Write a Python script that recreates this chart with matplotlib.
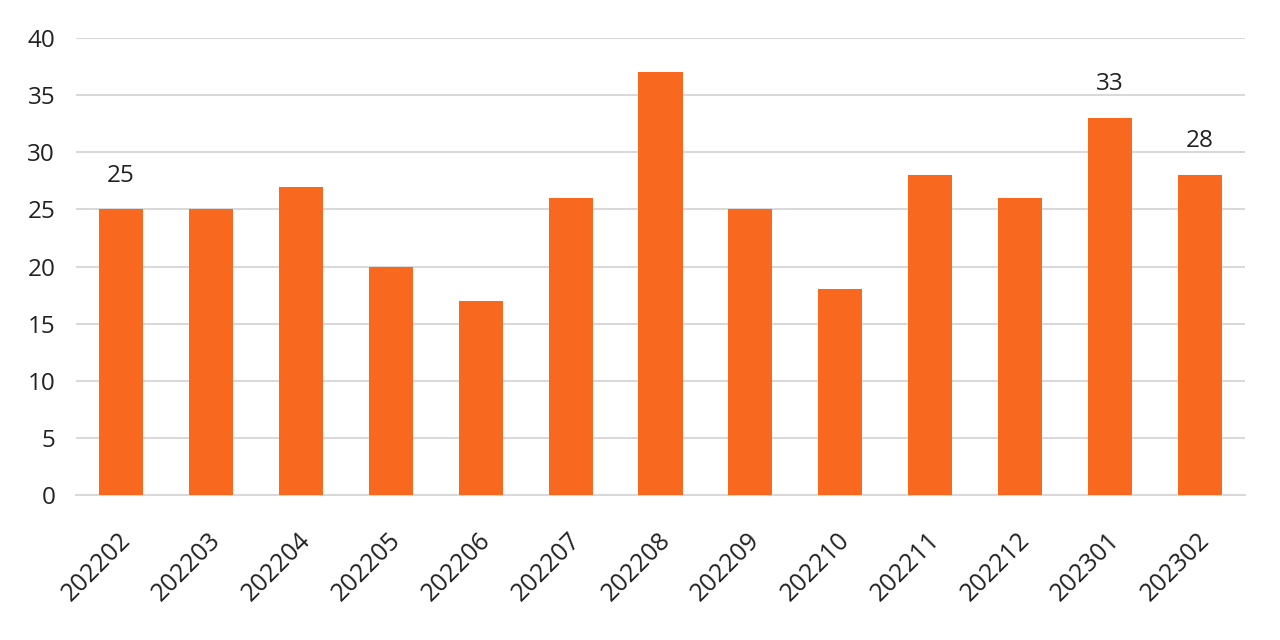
import matplotlib
matplotlib.use("Agg")
import matplotlib.pyplot as plt
import matplotlib.transforms as mtransforms

months = ["202202", "202203", "202204", "202205", "202206", "202207", "202208",
          "202209", "202210", "202211", "202212", "202301", "202302"]
values = [25, 25, 27, 20, 17, 26, 37, 25, 18, 28, 26, 33, 28]
labeled = [0, 11, 12]
yticks = [0, 5, 10, 15, 20, 25, 30, 35, 40]

plt.rcParams['font.family'] = ['Open Sans', 'DejaVu Sans']

fig = plt.figure(figsize=(12.8, 6.4), dpi=100)
ax = fig.add_axes([76/1280, 1-495/640, (1245-76)/1280, (495-38)/640])

x = list(range(len(months)))
bars = ax.bar(x, values, width=0.49, color='#F8691F', zorder=3)

for i in labeled:
    ax.annotate(str(values[i]), (x[i], values[i]), xytext=(0, 20),
                textcoords='offset points', ha='center', va='baseline',
                fontsize=17.5, color='#222222')

ax.set_xlim(-0.5, len(months) - 0.5)
ax.set_ylim(0, 40)
ax.set_yticks(yticks)
ax.set_yticklabels([str(v) for v in yticks], fontsize=17.5, color='#222222')
ax.yaxis.grid(True, color='#d9d9d9', linewidth=1.5, zorder=0)
ax.set_axisbelow(True)
ax.tick_params(axis='y', length=0, pad=15)
ax.tick_params(axis='x', length=0, pad=30)
ax.set_xticks(x)
ax.set_xticklabels(months, rotation=45, ha='right', va='center',
                   rotation_mode='anchor', fontsize=18, color='#222222')
shift = mtransforms.ScaledTranslation(6/100, 0, fig.dpi_scale_trans)
for lbl in ax.get_xticklabels():
    lbl.set_transform(lbl.get_transform() + shift)

for s in ['top', 'right', 'left']:
    ax.spines[s].set_visible(False)
ax.spines['bottom'].set_color('#d9d9d9')
ax.spines['bottom'].set_linewidth(1.5)

fig.savefig('out.png', dpi=100, facecolor='white')
